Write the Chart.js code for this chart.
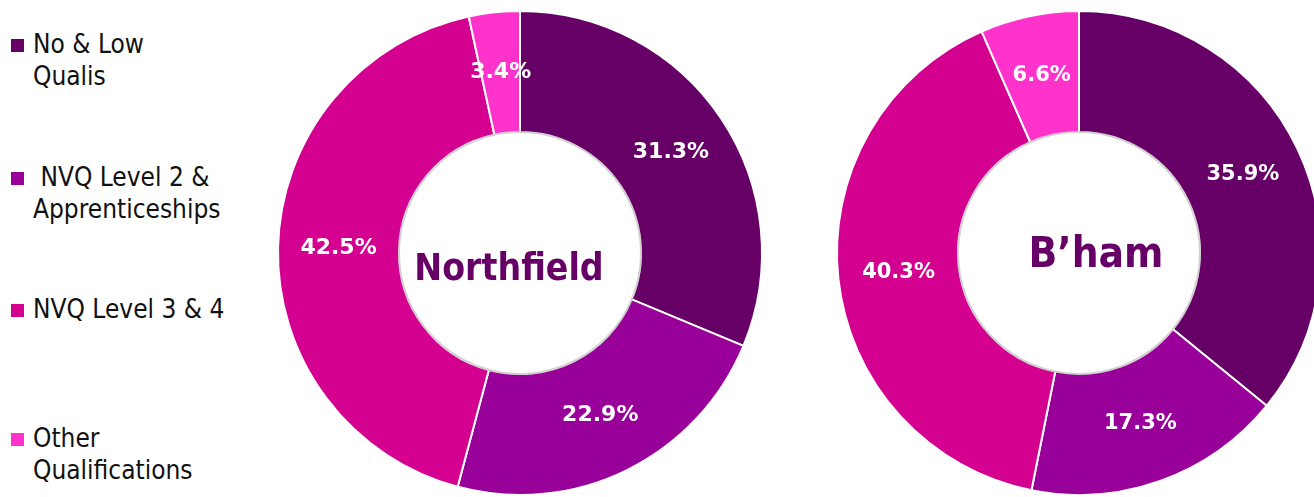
<!DOCTYPE html>
<html>
<head>
<meta charset="utf-8">
<script src="https://cdn.jsdelivr.net/npm/chart.js@4.4.1/dist/chart.umd.min.js"></script>
<style>
  html, body { margin: 0; padding: 0; background: #fff; }
  body { width: 1314px; height: 497px; position: relative; overflow: hidden; }
  .wrap { position: absolute; top: 0; width: 500px; height: 497px; }
  #legend { position: absolute; left: 0; top: 0; font-family: "DejaVu Sans Condensed", "DejaVu Sans", sans-serif; font-size: 26px; color: #111; }
  .item { position: absolute; left: 11px; white-space: nowrap; }
  .box { position: absolute; left: 0; width: 13px; height: 13px; }
  .txt { position: absolute; left: 22px; line-height: 32px; }
</style>
</head>
<body>
<div id="legend"></div>
<div class="wrap" style="left:270px"><canvas id="north" width="500" height="497"></canvas></div>
<div class="wrap" style="left:829px"><canvas id="bham" width="500" height="497"></canvas></div>
<script>
const categories = ['No & Low Qualis', 'NVQ Level 2 & Apprenticeships', 'NVQ Level 3 & 4', 'Other Qualifications'];
const legendLines = [['No & Low', 'Qualis'], ['\u00a0NVQ Level 2 &', 'Apprenticeships'], ['NVQ Level 3 & 4'], ['Other', 'Qualifications']];
const northfield = [31.3, 22.9, 42.5, 3.4];
const birmingham = [35.9, 17.3, 40.3, 6.6];
const colors = ['#660066', '#990099', '#d4008f', '#ff33cc'];

// legend (html)
const legendTops = [28, 161, 293, 422];
const legend = document.getElementById('legend');
categories.forEach((c, i) => {
  const item = document.createElement('div');
  item.className = 'item';
  item.style.top = legendTops[i] + 'px';
  item.innerHTML = '<div class="box" style="top:11px;background:' + colors[i] + '"></div>' +
    '<div class="txt">' + legendLines[i].join('<br>') + '</div>';
  legend.appendChild(item);
});

const labelPlugin = {
  id: 'sliceLabels',
  afterDatasetsDraw(chart, args, opts) {
    const ctx = chart.ctx;
    const meta = chart.getDatasetMeta(0);
    const arc0 = meta.data[0];
    ctx.save();
    // faint shadow round the hole
    ctx.beginPath();
    ctx.arc(arc0.x, arc0.y, arc0.innerRadius, 0, Math.PI * 2);
    ctx.strokeStyle = 'rgba(0,0,0,0.18)';
    ctx.lineWidth = 2;
    ctx.stroke();

    ctx.fillStyle = '#fff';
    ctx.font = opts.font;
    ctx.textAlign = 'center';
    ctx.textBaseline = 'middle';
    meta.data.forEach((arc, i) => {
      const p = arc.tooltipPosition();
      ctx.fillText(chart.data.datasets[0].data[i].toFixed(1) + '%', p.x, p.y);
    });

    ctx.fillStyle = '#660066';
    ctx.font = opts.centerFont;
    ctx.fillText(opts.title, arc0.x + opts.titleDx, arc0.y + opts.titleDy);
    ctx.restore();
  }
};

function makeChart(id, values, title, font, centerFont, titleDx, titleDy) {
  return new Chart(document.getElementById(id), {
    type: 'doughnut',
    data: {
      labels: categories,
      datasets: [{ data: values, backgroundColor: colors, borderColor: '#fff', borderWidth: 2, hoverOffset: 0 }]
    },
    options: {
      responsive: false,
      animation: false,
      events: [],
      cutout: '50%',
      layout: { padding: { top: 10, bottom: 1, left: 7, right: 7 } },
      plugins: {
        legend: { display: false },
        tooltip: { enabled: false },
        sliceLabels: { font: font, centerFont: centerFont, title: title, titleDx: titleDx, titleDy: titleDy }
      }
    },
    plugins: [labelPlugin]
  });
}

makeChart('north', northfield, 'Northfield', 'bold 22px "DejaVu Sans"', 'bold 37px "DejaVu Sans Condensed", "DejaVu Sans"', -11, 17);
makeChart('bham', birmingham, 'B\u2019ham', 'bold 21px "DejaVu Sans"', 'bold 42px "DejaVu Sans Condensed", "DejaVu Sans"', 17, 3);
</script>
</body>
</html>
